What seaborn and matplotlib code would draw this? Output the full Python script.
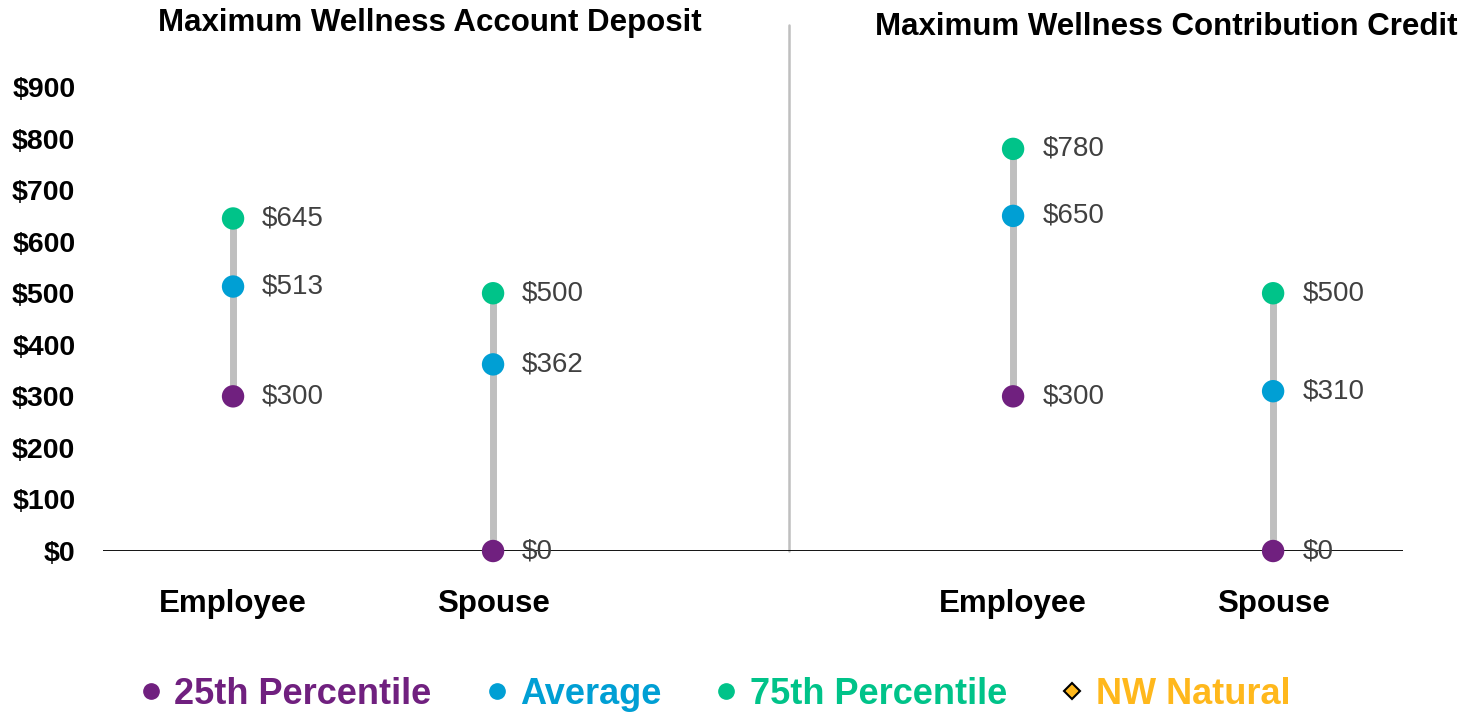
import numpy as np
import pandas as pd
import matplotlib
matplotlib.use("Agg")
import matplotlib.pyplot as plt
from matplotlib.lines import Line2D
import seaborn as sns

# values
groups = ["Employee", "Spouse", "Employee", "Spouse"]
panel_titles = ["Maximum Wellness Account Deposit", "Maximum Wellness Contribution Credit"]
p25 = [300, 0, 300, 0]
avg = [513, 362, 650, 310]
p75 = [645, 500, 780, 500]
series = ["25th Percentile", "Average", "75th Percentile"]
yticks = [0, 100, 200, 300, 400, 500, 600, 700, 800, 900]
xpos = [0, 1, 3, 4]

colors = {"25th Percentile": "#70207F", "Average": "#009FD4", "75th Percentile": "#00C389"}
nw_color = "#FFB81C"

sns.set_theme(style="white")
plt.rcParams["font.family"] = ["Liberation Sans", "DejaVu Sans"]

rows = []
for i, x in enumerate(xpos):
    for name, vals in zip(series, [p25, avg, p75]):
        rows.append({"x": x, "value": vals[i], "stat": name})
df = pd.DataFrame(rows)

fig = plt.figure(figsize=(14.7, 7.12), dpi=100)
ax = fig.add_axes([0.0701, 0.2261, 0.8844, 0.6517])

# gray connecting stems
ax.vlines(xpos, [min(a, b, c) for a, b, c in zip(p25, avg, p75)],
          [max(a, b, c) for a, b, c in zip(p25, avg, p75)],
          color="#BFBFBF", lw=5, zorder=1)

ax.axhline(0, color="black", lw=1.3, zorder=2)

sns.scatterplot(data=df, x="x", y="value", hue="stat", palette=colors,
                s=260, edgecolor="none", legend=False, ax=ax, zorder=3,
                clip_on=False)

for _, r in df.iterrows():
    ax.annotate(f"${r['value']:.0f}", (r["x"], r["value"]), xytext=(21, 0),
                textcoords="offset points", va="center", ha="left",
                fontsize=20, color="#404040", zorder=4)

# separator between the two panels
ax.plot([2.14, 2.14], [0, 1020], color="#BFBFBF", lw=1.8, clip_on=False, zorder=1)

ax.set_xlim(-0.5, 4.5)
ax.set_ylim(0, 900)
ax.set_yticks(yticks)
ax.set_yticklabels([f"${v}" for v in yticks], fontsize=20.5, fontweight="bold", color="black")
ax.set_xticks(xpos)
ax.set_xticklabels(groups, fontsize=22.5, fontweight="bold", color="black")
ax.tick_params(axis="x", length=0, pad=27)
ax.tick_params(axis="y", length=0, pad=20)
ax.set_xlabel("")
ax.set_ylabel("")
for s in ax.spines.values():
    s.set_visible(False)

fig.text(430 / 1470, 1 - 23 / 712, panel_titles[0], ha="center", va="center",
         fontsize=22.5, fontweight="bold", color="black")
fig.text(1166 / 1470, 1 - 27 / 712, panel_titles[1], ha="center", va="center",
         fontsize=22.5, fontweight="bold", color="black")

handles = [Line2D([], [], marker="o", ls="none", color=colors[n], markersize=11) for n in series]
handles.append(Line2D([], [], marker="D", ls="none", markerfacecolor=nw_color,
                      markeredgecolor="black", markeredgewidth=1.5, markersize=8))
labels = series + ["NW Natural"]
leg = fig.legend(handles, labels, loc="center", bbox_to_anchor=(0.484, 1 - 694 / 712),
                 ncol=4, frameon=False, handlelength=1.0, handletextpad=0.15,
                 columnspacing=1.3, prop={"size": 26, "weight": "bold"})
for txt, c in zip(leg.get_texts(), [colors[n] for n in series] + [nw_color]):
    txt.set_color(c)

fig.savefig("out.png", dpi=100)
